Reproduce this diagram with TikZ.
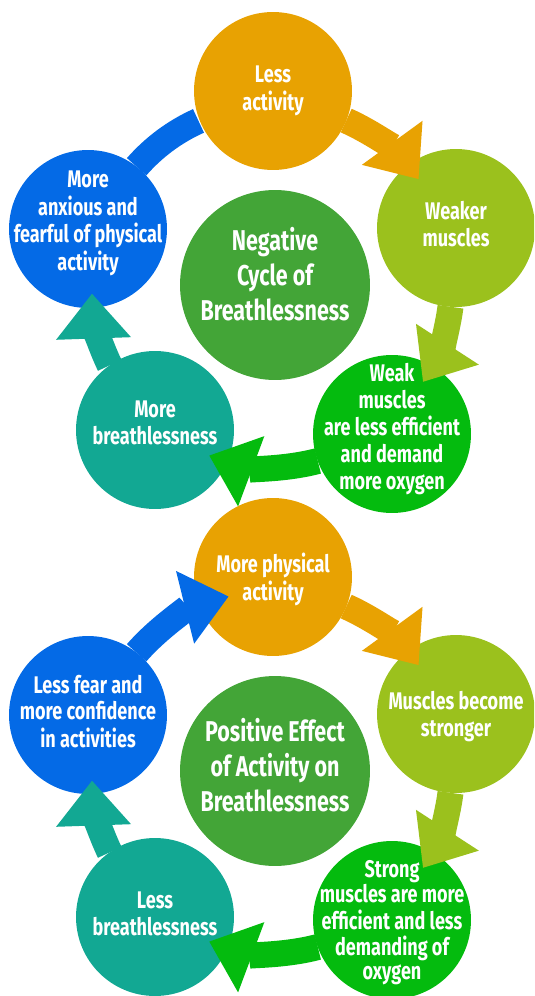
\documentclass[tikz,border=0pt]{standalone}
\usepackage{fontspec}
\setmainfont{Fira Sans}[FakeStretch=0.75]
\usepackage{xcolor}
\usetikzlibrary{arrows.meta}

\definecolor{cycorange}{HTML}{E8A202}
\definecolor{cyclime}{HTML}{9BC11D}
\definecolor{cycgreen}{HTML}{04BB0E}
\definecolor{cycteal}{HTML}{12A893}
\definecolor{cycblue}{HTML}{046AE6}
\definecolor{hubgreen}{HTML}{43A537}

% text block, moved up by #1 inside its circle
\newcommand{\lift}[2][0pt]{\raisebox{0pt}[\dimexpr\height-#1\relax][\dimexpr\depth+#1\relax]{\begin{tabular}{@{}c@{}}#2\end{tabular}}}

\begin{document}
\begin{tikzpicture}[
  x=0.02cm, y=0.02cm,
  bubble/.style={circle, minimum size=3.16cm, inner sep=-15pt, outer sep=0pt, text=white, font=\bfseries\fontsize{13.7}{15.2}\selectfont},
  hub/.style={bubble, minimum size=3.8cm, fill=hubgreen, font=\bfseries\fontsize{16.3}{20}\selectfont},
  band/.style={line width=0.52cm},
  cyclearrow/.style={band, -{Triangle[width=1.44cm, length=0.9cm]}}
]
\clip (0,0) rectangle (534,-996);

% negative cycle
\node[bubble, fill=cycorange] (less) at (273,-91) {\lift{Less\\activity}};
\node[bubble, fill=cyclime] (weaker) at (456,-228) {\lift{Weaker\\muscles}};
\node[bubble, fill=cycgreen] (weak) at (392,-434) {\lift[2.3pt]{Weak\\muscles\\are less efficient\\and demand\\more oxygen}};
\node[bubble, fill=cycteal] (morebreath) at (155,-430) {\lift[2.3pt]{More\\breathlessness}};
\node[bubble, fill=cycblue] (anxious) at (88,-229) {\lift[3pt]{More\\anxious and\\fearful of physical\\activity}};
\node[hub] (negative) at (275,-285) {\lift[3.7pt]{Negative\\Cycle of\\Breathlessness}};

\draw[cyclearrow, cycorange] (less.-22) arc[start angle=66, end angle=36, radius=180];
\draw[cyclearrow, cyclime] (weaker.-94) arc[start angle=-7.3, end angle=-33, radius=180];
\draw[cyclearrow, cycgreen] (weak.-160) arc[start angle=-75.3, end angle=-110.5, radius=180];
\draw[cyclearrow, cycteal] (morebreath.125) arc[start angle=-154.3, end angle=-178, radius=180];
\draw[band, cycblue] (anxious.52) arc[start angle=138.9, end angle=114.2, radius=180];

% positive cycle
\node[bubble, fill=cycorange] (more) at (273,-577) {\lift[-2pt]{More physical\\activity}};
\node[bubble, fill=cyclime] (stronger) at (456,-714) {\lift[-2pt]{Muscles become\\stronger}};
\node[bubble, fill=cycgreen, font=\bfseries\fontsize{13.7}{13.5}\selectfont] (strong) at (392,-920) {\lift[-2pt]{Strong\\muscles are more\\efficient and less\\demanding of\\oxygen}};
\node[bubble, fill=cycteal] (lessbreath) at (155,-917) {\lift{Less\\breathlessness}};
\node[bubble, fill=cycblue] (confident) at (88,-715) {\lift{Less fear and\\more confidence\\in activities}};
\node[hub] (positive) at (275,-771) {\lift[0.8pt]{Positive Effect\\of Activity on\\Breathlessness}};

\draw[cyclearrow, cycorange] (more.-22) arc[start angle=66, end angle=36, radius=180];
\draw[cyclearrow, cyclime] (stronger.-94) arc[start angle=-7.3, end angle=-33, radius=180];
\draw[cyclearrow, cycgreen] (strong.-160) arc[start angle=-75.3, end angle=-110.5, radius=180];
\draw[cyclearrow, cycteal] (lessbreath.125) arc[start angle=-154.3, end angle=-178, radius=180];
\draw[cyclearrow, cycblue] (confident.52) arc[start angle=138.9, end angle=104, radius=180];
\end{tikzpicture}
\end{document}
